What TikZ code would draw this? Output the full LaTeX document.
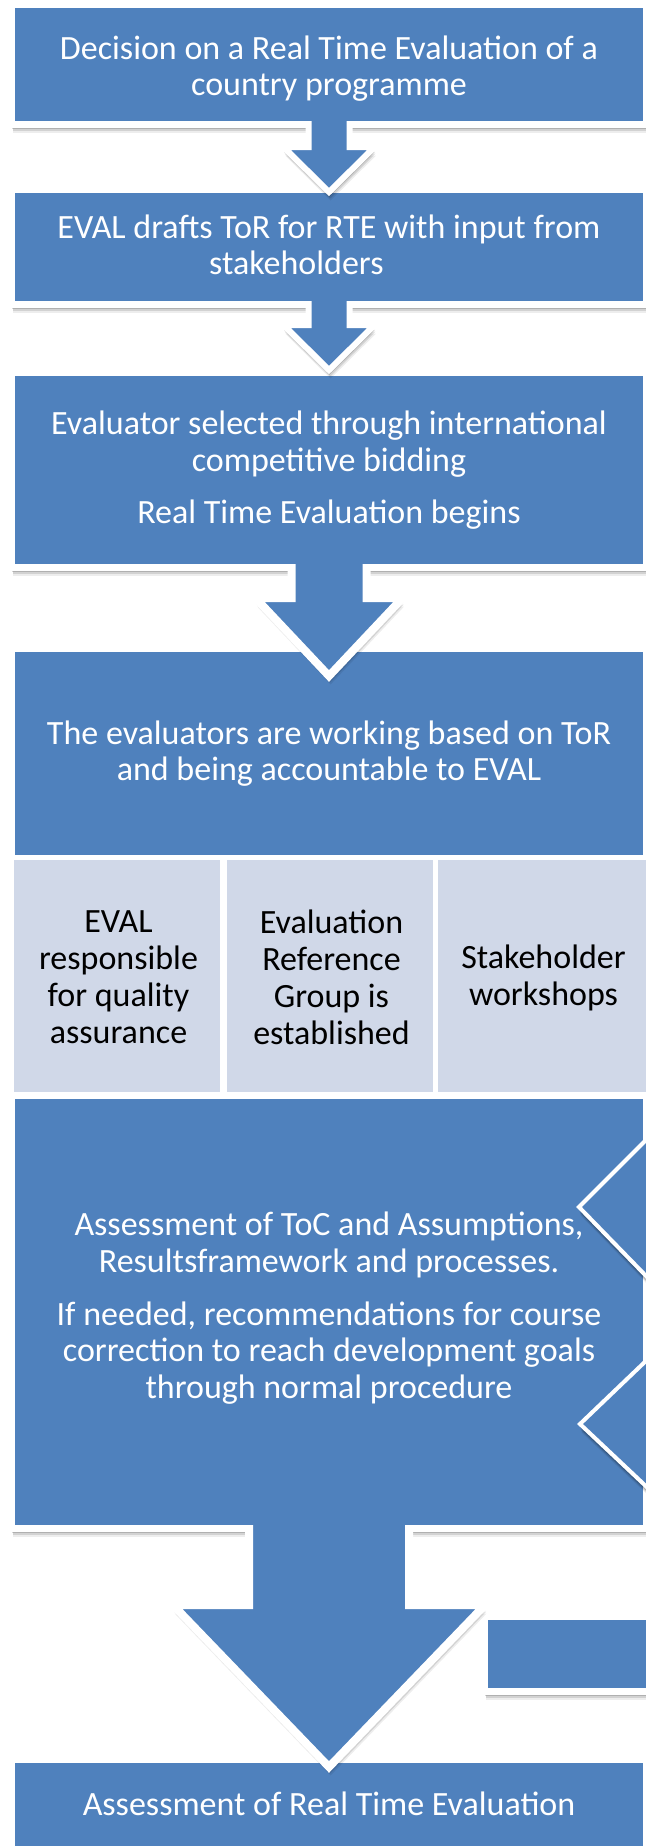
\documentclass[tikz,border=0pt]{standalone}
\usepackage{fontspec}
\setmainfont{Carlito}
\usepackage{tikz}
\usetikzlibrary{calc,fit,shadows}

\definecolor{boxblue}{HTML}{4F81BD}
\definecolor{boxlight}{HTML}{D0D8E8}

% block arrow: [style] from-node, tip, shaft half width, head half width, head length
\newcommand{\blkarrow}[6][]{%
    \draw[flowarrow,#1] ($(#2.south)+(-#4,-3.5)$) -- ($(#3)+(-#4,-#6)$) -- ($(#3)+(-#5,-#6)$)
        -- (#3) -- ($(#3)+(#5,-#6)$) -- ($(#3)+(#4,-#6)$) -- ($(#2.south)+(#4,-3.5)$);
}

\begin{document}
\begin{tikzpicture}[x=0.75pt,y=-0.75pt]
    \tikzstyle{softshadow} = [drop shadow={shadow xshift=0.4pt, shadow yshift=-3.6pt, opacity=0.16, fill=black},
        drop shadow={shadow xshift=0.8pt, shadow yshift=-5pt, opacity=0.11, fill=black},
        drop shadow={shadow xshift=1.2pt, shadow yshift=-6.4pt, opacity=0.07, fill=black}]
    \tikzstyle{stepbox} = [fill=boxblue, draw=white, line width=5.25pt, inner sep=2.625pt, outer sep=0pt, softshadow]
    \tikzstyle{plainbox} = [fill=boxblue, inner sep=0pt, outer sep=0pt]
    \tikzstyle{sidebox} = [fill=boxlight, inner sep=0pt, outer sep=0pt]
    \tikzstyle{steptext} = [text=white, align=center, inner sep=0pt, font=\fontsize{25.5pt}{27.4pt}\selectfont]
    \tikzstyle{sidetext} = [text=black, align=center, inner sep=0pt, font=\fontsize{25.5pt}{27.75pt}\selectfont]
    \tikzstyle{flowarrow} = [fill=boxblue, draw=white, line width=4.5pt, softshadow]
    \tikzstyle{chevron} = [fill=boxblue, draw=white, line width=3pt, softshadow]

    \useasboundingbox (0,0) rectangle (646,1846);
    \fill[white] (0,0) rectangle (646,1846);
    \clip (0,0) rectangle (646,1846);

    % Steps
    \node[stepbox, fit={(15,8) (643,121)}] (b1) {};
    \node[steptext] (t1) at (329,68.5) {Decision on a Real Time Evaluation of a\\country programme};
    \node[stepbox, fit={(15,193) (643,301)}] (b2) {};
    \node[steptext] (t2) at (329,245) {EVAL drafts ToR for RTE with input from\\stakeholders\hspace*{49pt}};
    \node[stepbox, fit={(15,376) (643,564)}] (b3) {};
    \node[steptext] (t3) at (329,470) {Evaluator selected through international\\competitive bidding\\[11.5pt]Real Time Evaluation begins};
    \node[plainbox, fit={(15,652) (643,855)}] (b4) {};
    \node[steptext] (t4) at (329,753.5) {The evaluators are working based on ToR\\and being accountable to EVAL};

    % Sub-steps
    \foreach \nm/\xa/\xb/\txt in {q/14/220/{EVAL\\responsible\\for quality\\assurance},
                                  r/227/433/{Evaluation\\Reference\\Group is\\established},
                                  w/438/646/{Stakeholder\\workshops}}
    {
        \node[sidebox, fit={(\xa,860) (\xb,1093)}] (s\nm) {};
        \node[sidetext] (s\nm text) at ($(s\nm.center)+(1.5,1)$) {\txt};
    }

    \node[stepbox, fit={(15,1099) (643,1525)}] (b5) {};
    \node[steptext] (t5) at (329,1308) {Assessment of ToC and Assumptions,\\Resultsframework and processes.\\[12.5pt]If needed, recommendations for course\\correction to reach development goals\\through normal procedure};

    % Side arrows coming in from the right
    \draw[chevron] (650,1136) -- (579,1207) -- (650,1280);
    \draw[chevron] (650,1357) -- (580,1424) -- (650,1490);
    \node[stepbox, fit={(488,1620) (700,1688)}] (side) {};

    \node[stepbox, fit={(15,1763) (643,1848)}] (b6) {};
    \node[steptext] (t6) at (329,1804) {Assessment of Real Time Evaluation};

    % Arrows
    \coordinate (tip1) at ($(b2.north)+(0,2.5)$);
    \coordinate (tip2) at ($(b3.north)+(0,-2.5)$);
    \coordinate (tip3) at ($(b4.north)+(0,24)$);
    \coordinate (tip4) at ($(b6.north)+(0,7.5)$);
    \blkarrow{b1}{tip1}{20.5}{45.5}{45}
    \blkarrow{b2}{tip2}{20.5}{45.5}{45}
    \blkarrow[line width=6pt]{b3}{tip3}{37.5}{73.5}{78}
    \blkarrow[line width=6pt]{b5}{tip4}{80}{156}{162}

\end{tikzpicture}
\end{document}
